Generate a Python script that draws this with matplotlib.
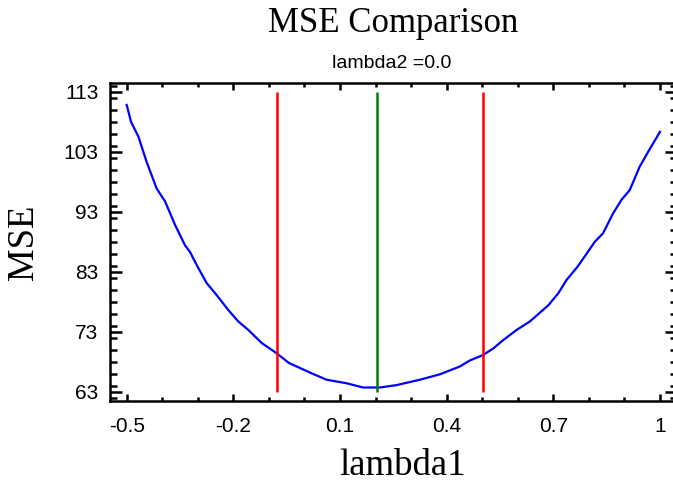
import matplotlib
matplotlib.use('Agg')
import matplotlib.pyplot as plt
from matplotlib.ticker import MultipleLocator

# curve
lambda1 = [-0.500, -0.488, -0.467, -0.444, -0.416, -0.392, -0.364, -0.336,
           -0.322, -0.303, -0.275, -0.247, -0.214, -0.186, -0.158, -0.120,
           -0.078, -0.044, 0.015, 0.062, 0.119, 0.165, 0.212, 0.259,
           0.325, 0.381, 0.437, 0.465, 0.502, 0.531, 0.559, 0.597,
           0.634, 0.686, 0.714, 0.737, 0.765, 0.775, 0.817, 0.840,
           0.868, 0.892, 0.915, 0.943, 0.967, 1.000]
mse = [110.8, 108.0, 105.5, 101.3, 96.9, 94.7, 90.8, 87.4,
       86.3, 84.1, 81.1, 79.1, 76.6, 74.7, 73.3, 71.1,
       69.4, 67.8, 66.2, 65.0, 64.4, 63.7, 63.7, 64.1,
       65.0, 65.9, 67.2, 68.2, 69.1, 70.2, 71.6, 73.3,
       74.7, 77.4, 79.4, 81.6, 83.6, 84.4, 88.0, 89.4,
       92.7, 95.0, 96.6, 100.5, 103.0, 106.3]

limit_lines = [-0.077, 0.502]
best_line = 0.205
line_range = (63, 112.9)

xticks = [-0.5, -0.2, 0.1, 0.4, 0.7, 1.0]
xtick_labels = ['-0.5', '-0.2', '0.1', '0.4', '0.7', '1']
yticks = [63, 73, 83, 93, 103, 113]

sans = ['Liberation Sans', 'DejaVu Sans']
serif = ['Liberation Serif', 'DejaVu Serif']

fig = plt.figure(figsize=(6.73, 4.83), dpi=100)
ax = fig.add_axes([110 / 673, 1 - 401 / 483, 567 / 673, 318 / 483])

ax.plot(lambda1, mse, color='#0000FF', lw=1.6)
ax.vlines(limit_lines, *line_range, color='#FF0000', lw=1.8)
ax.vlines(best_line, *line_range, color='#008000', lw=1.8)

ax.set_xlim(-0.547, 1.048)
ax.set_ylim(61.45, 114.45)

ax.set_xticks(xticks)
ax.set_xticklabels(xtick_labels)
ax.set_yticks(yticks)
ax.xaxis.set_minor_locator(MultipleLocator(0.1))
ax.yaxis.set_minor_locator(MultipleLocator(2))

for s in ax.spines.values():
    s.set_linewidth(1.8)
ax.spines['right'].set_visible(False)

ax.tick_params(axis='y', which='major', direction='in', length=8.6, width=1.8,
               left=True, right=True, labelsize=15, pad=8.4)
ax.tick_params(axis='y', which='minor', direction='in', length=5, width=1.8,
               left=True, right=True)
ax.tick_params(axis='x', which='major', direction='in', length=5, width=1.8,
               top=True, bottom=True, labelsize=15, pad=11.5)
ax.tick_params(axis='x', which='minor', direction='in', length=3, width=1.8,
               top=True, bottom=True)
for lab in ax.get_xticklabels() + ax.get_yticklabels():
    lab.set_family(sans)

fig.text(393 / 673, 1 - 32 / 483, 'MSE Comparison', ha='center', va='baseline',
         fontsize=25, family=serif)
fig.text(392 / 673, 1 - 68.5 / 483, 'lambda2 =0.0', ha='center', va='baseline',
         fontsize=14, family=sans)
fig.text(403 / 673, 1 - 475 / 483, 'lambda1', ha='center', va='baseline',
         fontsize=26.5, family=serif)
fig.text(24 / 673, 1 - 242 / 483, 'MSE', ha='center', va='center',
         rotation=90, fontsize=26.5, family=serif)

fig.savefig('out.png', dpi=100)
